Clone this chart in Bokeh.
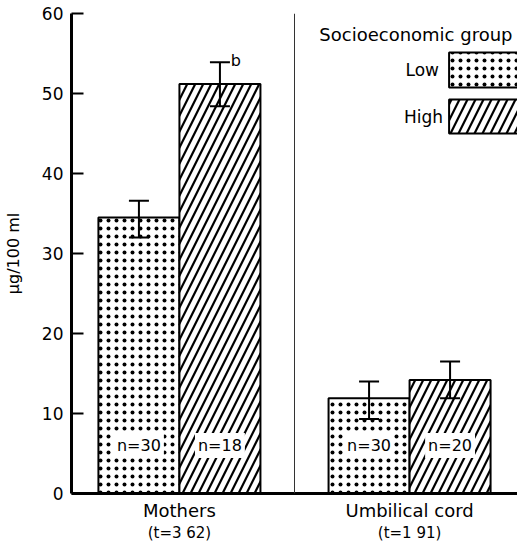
from bokeh.plotting import figure
from bokeh.models import (FactorRange, Range1d, ColumnDataSource, Whisker, TeeHead,
                          Span, FixedTicker, CategoricalAxis)
from bokeh.transform import dodge
from bokeh.core.properties import value
from bokeh.embed import file_html
from bokeh.resources import INLINE

# ---- data ----
groups = ["Mothers", "Umbilical cord"]
t_labels = ["(t=3 62)", "(t=1 91)"]
low_mean = [34.5, 11.9]
low_upper = [36.6, 14.0]
low_lower = [32.0, 9.3]
high_mean = [51.2, 14.2]
high_upper = [53.9, 16.5]
high_lower = [48.4, 11.9]
low_n = ["n=30", "n=30"]
high_n = ["n=18", "n=20"]
high_sig = ["b", ""]
y_ticks = [0, 10, 20, 30, 40, 50, 60]
legend_title = "Socioeconomic group"
legend_labels = ["Low", "High"]

FONT = "DejaVu Sans"
OFF = 0.176
BW = 0.352
PAD = -0.031
FRAME_L, FRAME_W, FRAME_T, FRAME_H = 70, 447, 13, 480
Y_MAX = 60

# helpers to place legend (layout) items given page pixel positions
X_START = -PAD / 2
X_SPAN = len(groups) + PAD
def px_x(px):
    return X_START + (px - FRAME_L) / FRAME_W * X_SPAN
def px_y(py):
    return (FRAME_T + FRAME_H - py) / FRAME_H * Y_MAX

src = ColumnDataSource(dict(group=groups, low=low_mean, low_up=low_upper, low_lo=low_lower,
                            high=high_mean, high_up=high_upper, high_lo=high_lower,
                            low_n=low_n, high_n=high_n, sig=high_sig,
                            n_y=[6, 6], sig_y=[u + 0.2 for u in high_upper]))

x_range = FactorRange(factors=groups, range_padding=PAD)
p = figure(x_range=x_range, y_range=Range1d(0, Y_MAX), width=517, height=548,
           output_backend="svg", toolbar_location=None, tools="",
           min_border_left=FRAME_L, min_border_right=0, min_border_top=FRAME_T,
           min_border_bottom=548 - FRAME_T - FRAME_H)
p.outline_line_color = None
p.xgrid.visible = False
p.ygrid.visible = False
p.background_fill_color = "white"
p.extra_x_ranges = {"t": FactorRange(factors=t_labels, range_padding=PAD)}

# divider between groups
p.add_layout(Span(location=1.0, dimension="height", line_color="#333333", line_width=1))

hatch_common = dict(fill_color="white", line_color="black", line_width=2, hatch_color="black")
dot_style = dict(hatch_pattern="dot", hatch_scale=8, hatch_weight=0.4)
diag_style = dict(hatch_pattern="right_diagonal_line", hatch_scale=16, hatch_weight=2.2)

p.vbar(x=dodge("group", -OFF, range=p.x_range), top="low", bottom=0, width=BW, source=src,
       **hatch_common, **dot_style)
p.vbar(x=dodge("group", OFF, range=p.x_range), top="high", bottom=0, width=BW, source=src,
       **hatch_common, **diag_style)

for off, up, lo in [(-OFF, "low_up", "low_lo"), (OFF, "high_up", "high_lo")]:
    w = Whisker(base=dodge("group", off, range=p.x_range), upper=up, lower=lo, source=src,
                line_width=2, line_color="black", level="overlay",
                upper_head=TeeHead(size=20, line_width=2, line_color="black"),
                lower_head=TeeHead(size=20, line_width=2, line_color="black"))
    p.add_layout(w)

txt = dict(text_font=value(FONT), text_font_size="16px", text_color="black",
           text_align="center", text_baseline="middle")
p.text(x=dodge("group", -OFF, range=p.x_range), y="n_y", text="low_n", source=src,
       background_fill_color="white", padding=3, **txt)
p.text(x=dodge("group", OFF, range=p.x_range), y="n_y", text="high_n", source=src,
       background_fill_color="white", padding=3, **txt)
p.text(x=dodge("group", OFF, range=p.x_range), y="sig_y", text="sig", source=src,
       x_offset=16, **txt)

# legend (drawn manually, labels to the left of swatches)
p.text(x=[px_x(318)], y=[px_y(34)], text=[legend_title],
       text_font=value(FONT), text_font_size="18px", text_align="left", text_baseline="middle")
p.quad(left=[px_x(446)], right=[px_x(516)], top=[px_y(52)], bottom=[px_y(87)],
       **hatch_common, **dot_style)
p.quad(left=[px_x(446)], right=[px_x(516)], top=[px_y(99)], bottom=[px_y(133)],
       **hatch_common, **diag_style)
p.text(x=[px_x(436), px_x(440)], y=[px_y(69), px_y(116)], text=legend_labels,
       text_font=value(FONT), text_font_size="17px", text_align="right", text_baseline="middle")

# axes
ya = p.yaxis[0]
ya.ticker = FixedTicker(ticks=y_ticks)
ya.axis_label = "µg/100 ml"
ya.axis_label_text_font = FONT
ya.axis_label_text_font_size = "16px"
ya.axis_label_text_font_style = "normal"
ya.axis_label_text_color = "black"
ya.axis_label_standoff = 16
ya.axis_line_width = 3
ya.major_tick_in = 12
ya.major_tick_out = 0
ya.major_tick_line_width = 2
ya.minor_tick_line_color = None
ya.major_label_text_font = FONT
ya.major_label_text_font_size = "17px"
ya.major_label_text_color = "black"
ya.major_label_standoff = 8

xa = p.xaxis[0]
xa.axis_line_width = 3
xa.major_tick_in = 0
xa.major_tick_out = 0
xa.major_tick_line_color = None
xa.major_label_text_font = FONT
xa.major_label_text_font_size = "18px"
xa.major_label_text_color = "black"
xa.major_label_standoff = 6

xa2 = CategoricalAxis(x_range_name="t", axis_line_color=None, major_tick_line_color=None,
                      minor_tick_line_color=None, major_tick_in=0, major_tick_out=0,
                      major_label_standoff=0, major_label_text_font=FONT,
                      major_label_text_font_size="15px", major_label_text_color="black")
p.add_layout(xa2, "below")

open("out.html", "w").write(file_html(p, INLINE))
